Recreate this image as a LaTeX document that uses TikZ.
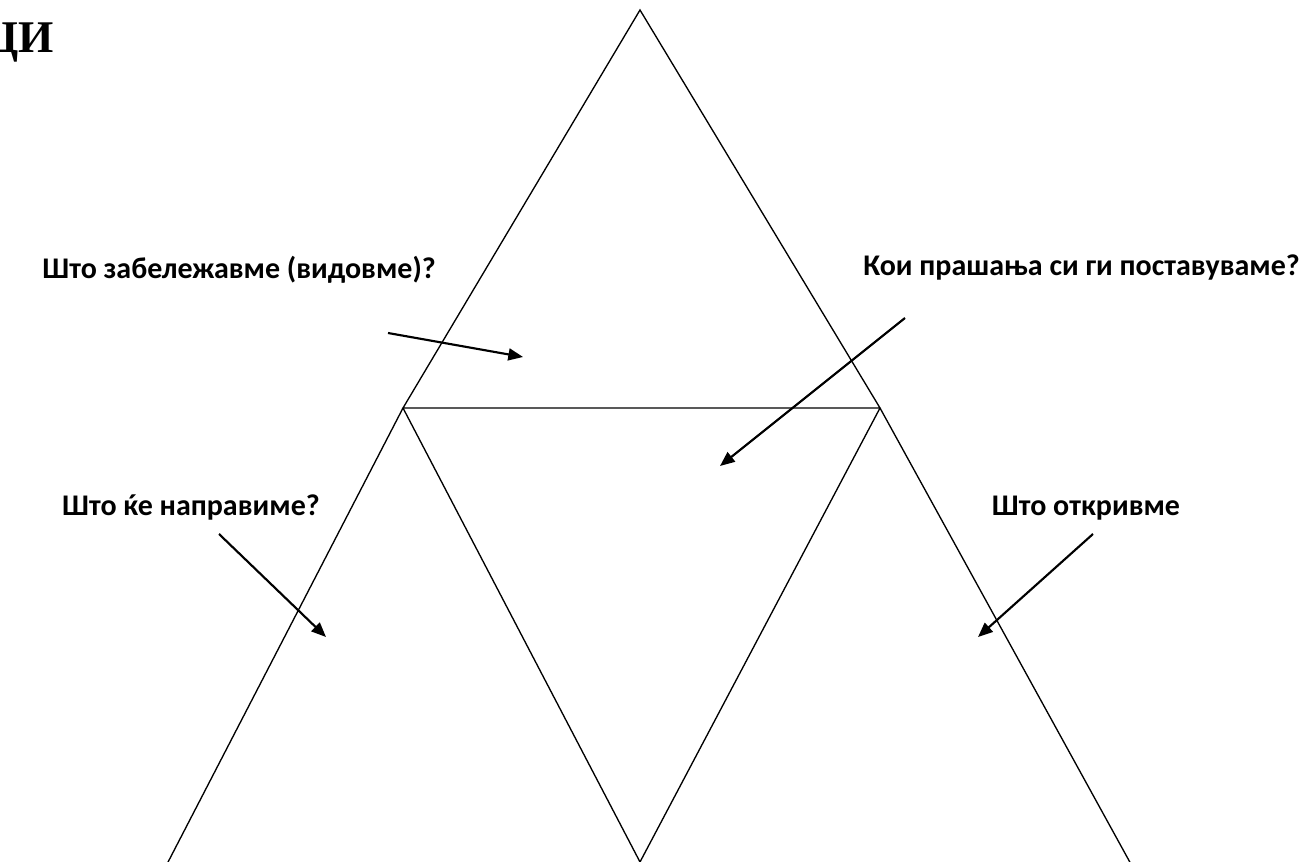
\documentclass[tikz,border=0pt]{standalone}
\usepackage{fontspec}
\setmainfont{Liberation Serif}
\newfontfamily\calfont{Carlito}
\usetikzlibrary{arrows.meta}

\begin{document}
\begin{tikzpicture}[x=0.75pt, y=-0.75pt,
  edge/.style={line width=1pt},
  pointer/.style={line width=1.6pt, -{Triangle[length=11pt, width=9pt]}},
  question/.style={font=\calfont\bfseries\fontsize{22.5}{26}\selectfont, inner sep=0pt}]
  \useasboundingbox (0,0) rectangle (1311,862);
  \clip (0,0) rectangle (1311,862);

  % corners of the triangles
  \coordinate (top) at (640,10);
  \coordinate (midL) at (403,408);
  \coordinate (midR) at (880,408);
  \coordinate (botL) at (166,866);
  \coordinate (botM) at (640,862);
  \coordinate (botR) at (1132,866);

  \draw[edge] (top) -- (midL) -- (midR) -- cycle;
  \draw[edge] (midL) -- (botM) -- (midR);
  \draw[edge] (midL) -- (botL);
  \draw[edge] (midR) -- (botR);

  % heading, cut at the left edge
  \node[font=\bfseries\fontsize{34}{38}\selectfont, anchor=base east, inner sep=0pt] (title) at (54,53) {ЦИ};

  % questions
  \node[question, anchor=east] (seen) at (436,270) {Што забележавме (видовме)?};
  \node[question, anchor=east] (asked) at (1300,268) {Кои прашања си ги поставуваме?};
  \node[question, anchor=east] (todo) at (320,508) {Што ќе направиме?};
  \node[question] (found) at (1086,508) {Што откривме};

  % arrows
  \coordinate (seenTail) at (388,333);
  \coordinate (seenHead) at (523,357);
  \coordinate (askedTail) at (905,318);
  \coordinate (askedHead) at (720,466);
  \coordinate (todoTail) at (219,534);
  \coordinate (todoHead) at (326,637);
  \coordinate (foundTail) at (1093,534);
  \coordinate (foundHead) at (978,637);

  \draw[pointer] (seenTail) -- (seenHead);
  \draw[pointer] (askedTail) -- (askedHead);
  \draw[pointer] (todoTail) -- (todoHead);
  \draw[pointer] (foundTail) -- (foundHead);
\end{tikzpicture}
\end{document}
